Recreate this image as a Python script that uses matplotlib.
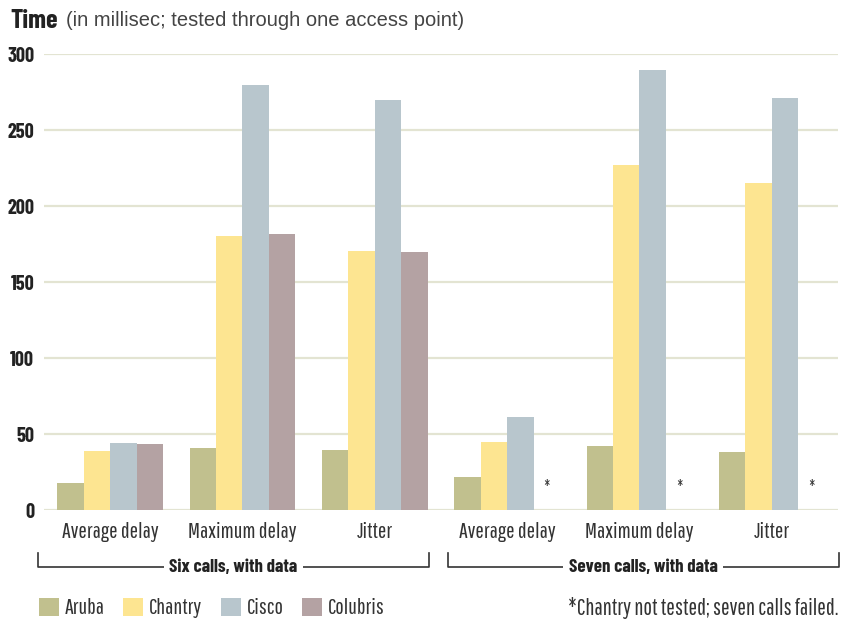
import numpy as np
import matplotlib
matplotlib.use('Agg')
import matplotlib.pyplot as plt
from matplotlib.patches import Patch

# %% DATA
groups = ['Average delay', 'Maximum delay', 'Jitter',
          'Average delay', 'Maximum delay', 'Jitter']
vendors = ['Aruba', 'Chantry', 'Cisco', 'Colubris']
aruba    = [18, 41, 39.5, 21.5, 42, 38]
chantry  = [38.5, 180, 170.5, 44.5, 227, 215]
cisco    = [44, 279.5, 270, 61, 289.5, 271]
colubris = [43.5, 181.5, 170, None, None, None]   # None = not tested (*)
sections = ['Six calls, with data', 'Seven calls, with data']

cols = ['#c1c08e', '#fde591', '#b8c6cd', '#b4a2a3']
grid_col = '#e3e4d2'

REG = ['Pathway Gothic One', 'DejaVu Sans']
BOLD = ['Barlow Condensed', 'DejaVu Sans']
plt.rcParams['font.family'] = REG

# %% PLOT
fig = plt.figure(figsize=(8.49, 6.21), dpi=100)
ax = fig.add_axes([44/849, 1-510/621, (838-44)/849, (510-54)/621])

x = np.arange(len(groups))
w = 0.2
series = [aruba, chantry, cisco, colubris]
for i, (vals, c) in enumerate(zip(series, cols)):
    xs = x + (i - 1.5) * w
    for xx, v in zip(xs, vals):
        if v is None:
            ax.text(xx, 15, '*', ha='center', va='center', fontsize=12, color='#333333')
        else:
            ax.bar(xx, v, w, color=c, zorder=3, linewidth=0)

ax.set_xlim(-0.5, 5.5)
ax.set_ylim(0, 300)
ax.set_yticks(range(0, 301, 50))
ax.yaxis.grid(True, color=grid_col, lw=1.6, zorder=0)
ax.set_axisbelow(True)
for s in ax.spines.values():
    s.set_visible(False)
ax.tick_params(axis='y', length=0, pad=7)
ax.set_yticklabels([str(v) for v in range(0, 301, 50)], family=BOLD, fontweight='bold',
                   fontsize=14.5, color='#222222')
ax.set_xticks(x)
ax.set_xticklabels(groups, fontsize=16, color='#333333')
ax.tick_params(axis='x', length=0, pad=8.5)

# title
fig.text(10/849, 1-21/621, 'Time', fontsize=19, family=BOLD, fontweight='bold',
         color='#222222', va='center')
fig.text(66/849, 1-21/621, '(in millisec; tested through one access point)',
         fontsize=14.5, family=['Liberation Sans', 'DejaVu Sans'], color='#444444', va='center')

# section brackets
trans = ax.get_xaxis_transform()
y_top = -43/456
y_bot = -57/456
for (x0, x1), lab in zip([(-0.545, 2.41), (2.55, 5.505)], sections):
    ax.plot([x0, x0, x1, x1], [y_top, y_bot, y_bot, y_top], color='#333333', lw=1.2,
            transform=trans, clip_on=False)
    ax.text((x0 + x1) / 2, y_bot, lab, transform=trans, ha='center', va='center',
            fontsize=13.5, family=BOLD, fontweight='bold', color='#222222',
            bbox=dict(facecolor='white', edgecolor='none', pad=4))

# legend
handles = [Patch(facecolor=c, edgecolor='none') for c in cols]
fig.legend(handles, vendors, loc='center left', bbox_to_anchor=(39/849, 1-608/621),
           ncol=4, frameon=False, fontsize=16, handlelength=0.9, handleheight=0.9,
           handletextpad=0.25, columnspacing=0.85, borderpad=0, borderaxespad=0,
           labelcolor='#333333')

fig.text(838/849, 1-608/621, '*Chantry not tested; seven calls failed.', ha='right',
         va='center', fontsize=16.4, color='#333333')

fig.savefig('out.png', dpi=100)
